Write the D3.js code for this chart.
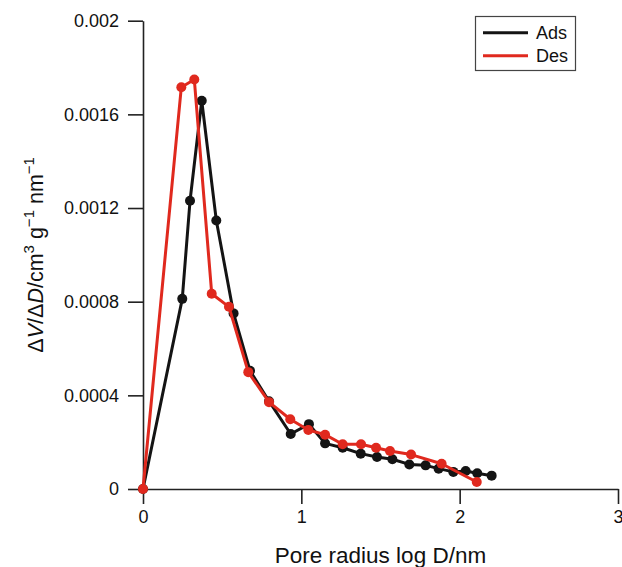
<!DOCTYPE html>
<html>
<head>
<meta charset="utf-8">
<script src="https://cdn.jsdelivr.net/npm/d3@7"></script>
<style>
  html, body { margin: 0; padding: 0; background: #fff; }
  svg { display: block; font-family: "Liberation Sans", Arial, Helvetica, sans-serif; }
</style>
</head>
<body>
<svg id="chart" width="622" height="567"></svg>
<script>
// ---- data ----
const adsX = [0, 0.248, 0.297, 0.371, 0.463, 0.572, 0.676, 0.796, 0.933, 1.048, 1.150, 1.261, 1.375, 1.478, 1.575, 1.682, 1.785, 1.867, 1.960, 2.038, 2.111, 2.202];
const adsY = [0, 0.000812, 0.001231, 0.001658, 0.001147, 0.000750, 0.000505, 0.000375, 0.000235, 0.000277, 0.000195, 0.000176, 0.000151, 0.000137, 0.000127, 0.000105, 0.000101, 0.000087, 0.000073, 0.000077, 0.000067, 0.000057];
const desX = [0, 0.242, 0.324, 0.434, 0.543, 0.665, 0.796, 0.930, 1.044, 1.150, 1.261, 1.377, 1.472, 1.560, 1.693, 1.886, 2.108];
const desY = [0, 0.001716, 0.001749, 0.000834, 0.000778, 0.000499, 0.000371, 0.000298, 0.000252, 0.000232, 0.000191, 0.000191, 0.000176, 0.000162, 0.000147, 0.000108, 0.000030];
const xTicks = [0, 1, 2, 3];
const xTickLabels = ["0", "1", "2", "3"];
const yTicks = [0, 0.0004, 0.0008, 0.0012, 0.0016, 0.002];
const yTickLabels = ["0", "0.0004", "0.0008", "0.0012", "0.0016", "0.002"];
const seriesNames = ["Ads", "Des"];

// ---- layout ----
const svg = d3.select("#chart");
const x = d3.scaleLinear().domain([0, 3]).range([143, 618]);
const y = d3.scaleLinear().domain([0, 0.002]).range([489, 20.7]);
const colors = { Ads: "#141414", Des: "#e0291e" };
const axisColor = "#222";

// axes
const xAxis = svg.append("g").attr("transform", `translate(0,${y(0)})`)
  .call(d3.axisBottom(x).tickValues(xTicks).tickFormat((d, i) => xTickLabels[i])
        .tickSize(15).tickSizeOuter(0).tickPadding(6));
const yAxis = svg.append("g").attr("transform", `translate(${x(0)},0)`)
  .call(d3.axisLeft(y).tickValues(yTicks).tickFormat((d, i) => yTickLabels[i])
        .tickSize(15).tickSizeOuter(0).tickPadding(9));
[xAxis, yAxis].forEach(g => {
  g.select(".domain").attr("stroke", axisColor).attr("stroke-width", 1.6);
  g.selectAll(".tick line").attr("stroke", axisColor).attr("stroke-width", 1.6);
  g.selectAll(".tick text").attr("fill", "#111").style("font-size", "18px")
    .style("font-family", '"Liberation Sans", Arial, Helvetica, sans-serif');
});

// axis titles
svg.append("text")
  .attr("x", (x(0) + x(3)) / 2).attr("y", 563)
  .attr("text-anchor", "middle").attr("fill", "#111")
  .style("font-size", "22.5px").text("Pore radius log D/nm");

const yt = svg.append("text")
  .attr("transform", `translate(43,${(y(0) + y(0.002)) / 2}) rotate(-90)`)
  .attr("text-anchor", "middle").attr("fill", "#111")
  .style("font-size", "21.5px");
yt.append("tspan").text("Δ");
yt.append("tspan").style("font-style", "italic").text("V");
yt.append("tspan").text("/Δ");
yt.append("tspan").style("font-style", "italic").text("D");
yt.append("tspan").text("/cm");
yt.append("tspan").attr("dy", -9).style("font-size", "15px").text("3");
yt.append("tspan").attr("dy", 9).text(" g");
yt.append("tspan").attr("dy", -9).style("font-size", "15px").text("−1");
yt.append("tspan").attr("dy", 9).text(" nm");
yt.append("tspan").attr("dy", -9).style("font-size", "15px").text("−1");

// series
const series = [
  { name: "Ads", xs: adsX, ys: adsY },
  { name: "Des", xs: desX, ys: desY }
];
const line = d3.line().x(d => x(d[0])).y(d => y(d[1]));
series.forEach(s => {
  const pts = s.xs.map((v, i) => [v, s.ys[i]]);
  const g = svg.append("g");
  g.append("path").datum(pts).attr("d", line)
    .attr("fill", "none").attr("stroke", colors[s.name])
    .attr("stroke-width", 3).attr("stroke-linejoin", "round");
  g.selectAll("circle").data(pts).join("circle")
    .attr("cx", d => x(d[0])).attr("cy", d => y(d[1])).attr("r", 5)
    .attr("fill", colors[s.name]);
});

// legend
const lg = svg.append("g");
lg.append("rect").attr("x", 475.5).attr("y", 16.5).attr("width", 100).attr("height", 54)
  .attr("fill", "#fff").attr("stroke", "#444").attr("stroke-width", 1.2);
seriesNames.forEach((n, i) => {
  const cy = 32.7 + i * 23;
  lg.append("line").attr("x1", 483).attr("x2", 528).attr("y1", cy).attr("y2", cy)
    .attr("stroke", colors[n]).attr("stroke-width", 3);
  lg.append("text").attr("x", 536).attr("y", cy + 6.5).attr("fill", "#111")
    .style("font-size", "18px").text(n);
});
</script>
</body>
</html>
